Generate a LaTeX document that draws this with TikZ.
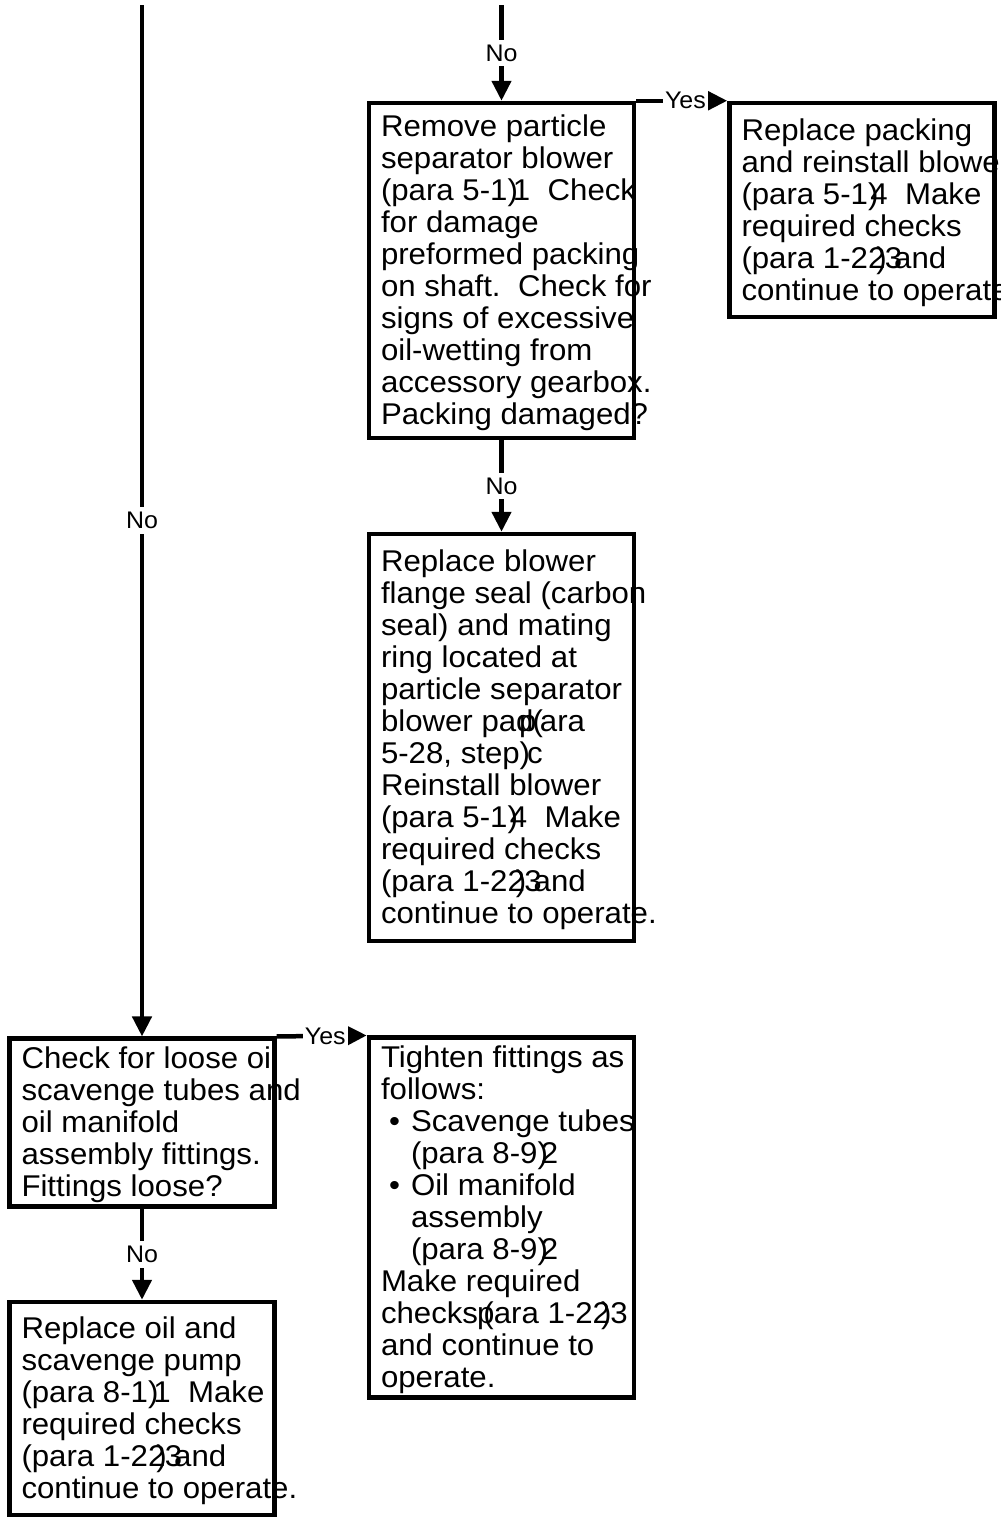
\documentclass[tikz,border=0pt]{standalone}
\usepackage{fontspec}
\setmainfont{Liberation Sans}[FakeStretch=1.04]
\usetikzlibrary{arrows.meta}
\newcommand{\boxfont}{\fontsize{30}{32}\selectfont}
\newcommand{\answerfont}{\fontsize{24}{24}\selectfont}
% fixed-width block of lines, long lines run past the frame
\newcommand{\steptext}[1]{\makebox[241pt][l]{\begin{tabular}{@{}l@{}}\rule{0pt}{30pt}#1\end{tabular}}}
\tikzset{
	box/.style={draw, line width=4.5pt, inner xsep=12pt, inner ysep=0pt, font=\boxfont},
	flow/.style={line width=4.5pt, -{Triangle[length=20pt,width=19pt]}},
	answer/.style={fill=white, inner xsep=2pt, inner ysep=5pt, font=\answerfont}
}

\begin{document}
\begin{tikzpicture}[x=1pt, y=-1pt]
			%%%%% START %%%%%
			\useasboundingbox (0,0) rectangle (1001,1518);
			
			\coordinate (leftin) at (142,5);
			\coordinate (topin) at (501.5,5);
			
			\node[box, minimum height=335pt] (remove) at (501.5,270.5) {\steptext{Remove particle\\
				separator blower\\
				(para 5-1)\kern-5pt 1\ \ Check\\
				for damage\\
				preformed packing\\
				on shaft.\ \ Check for\\
				signs of excessive\\
				oil-wetting from\\
				accessory gearbox.\\
				Packing damaged?}};
			
			\node[box, minimum height=214pt] (packing) at (862,210) {\steptext{Replace packing\\
				and reinstall blower\\
				(para 5-1)\kern-8pt 4\ \ Make\\
				required checks\\
				(para 1-22\kern-9pt)\kern-2pt 3\kern-8pt and\\
				continue to operate.}};
			
			\node[box, minimum height=407pt] (seal) at (501.5,737.5) {\steptext{Replace blower\\
				flange seal (carbon\\
				seal) and mating\\
				ring located at\\
				particle separator\\
				blower pa\rlap{d}\kern3pt p\kern-4pt(\kern-3pt ara\\
				5-28, step)\kern-3pt c\\
				Reinstall blower\\
				(para 5-1)\kern-8pt 4\ \ Make\\
				required checks\\
				(para 1-22\kern-9pt)\kern-2pt 3\kern-8pt and\\
				continue to operate.}};
			
			\node[box, minimum height=167pt] (loose) at (142,1122.5) {\steptext{Check for loose oil\\
				scavenge tubes and\\
				oil manifold\\
				assembly fittings.\\
				Fittings loose?}};
			
			\node[box, minimum height=357pt] (tighten) at (501.5,1217.5) {\steptext{Tighten fittings as\\
				follows:\\
				\hspace*{8pt}\makebox[22pt][l]{•}Scavenge tubes\\
				\hspace*{30pt}(para 8-9)\kern-7pt 2\\
				\hspace*{8pt}\makebox[22pt][l]{•}Oil manifold\\
				\hspace*{30pt}assembly\\
				\hspace*{30pt}(para 8-9)\kern-7pt 2\\
				Make required\\
				checks\kern-1pt p\kern-11pt(\kern0pt ara 1-22\kern-9pt)\kern-1pt 3\\
				and continue to\\
				operate.}};
			
			\node[box, minimum height=213pt] (pump) at (142,1408.5) {\steptext{Replace oil and\\
				scavenge pump\\
				(para 8-1)\kern-5pt 1\ \ Make\\
				required checks\\
				(para 1-22\kern-9pt)\kern-2pt 3\kern-8pt and\\
				continue to operate.}};
			
			\draw[flow] (leftin) -- node[answer] {No} (loose.north);
			\draw[flow] (topin) -- node[answer] {No} (remove.north);
			\draw[flow] (remove.south) -- node[answer] {No} (seal.north);
			\draw[flow] (loose.south) -- node[answer] {No} (pump.north);
			\draw[flow] (remove.north east) -- node[answer, pos=0.54] {Yes} (packing.north west);
			\draw[flow] (loose.north east) -- node[answer, pos=0.54] {Yes} (tighten.north west);
			
			%%%%% END %%%%%
\end{tikzpicture}
\end{document}
